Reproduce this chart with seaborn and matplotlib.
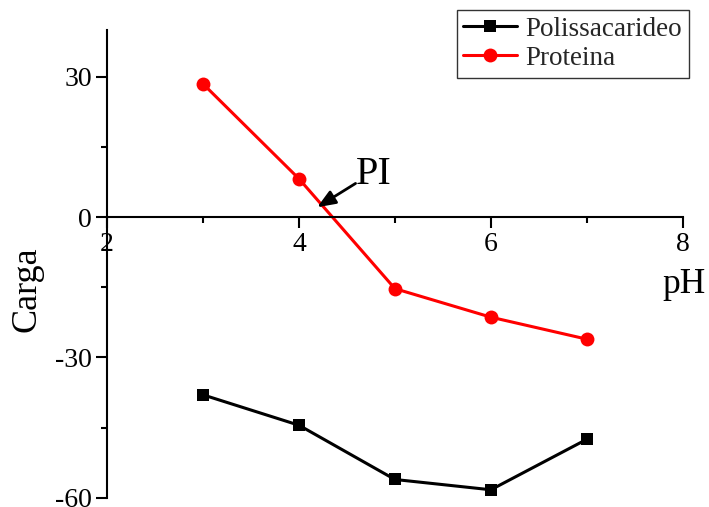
import matplotlib
matplotlib.use("Agg")
import matplotlib.pyplot as plt
import seaborn as sns
import pandas as pd
from matplotlib.ticker import MultipleLocator

# Surface charge versus pH
ph = [3, 4, 5, 6, 7]
polissacarideo = [-38.0, -44.5, -56.1, -58.3, -47.5]
proteina = [28.5, 8.2, -15.3, -21.4, -26.1]

x_ticks = [2, 4, 6, 8]
y_ticks = [-60, -30, 0, 30]

sns.set_theme(style="white")
plt.rcParams["font.family"] = ["Liberation Serif", "DejaVu Serif"]
plt.rcParams["axes.unicode_minus"] = False

fig = plt.figure(figsize=(7.09, 5.07), dpi=100)
ax = fig.add_axes([0.1509, 0.0183, 0.8122, 0.9225])

df = pd.DataFrame({
    "pH": ph * 2,
    "Carga": polissacarideo + proteina,
    "Serie": ["Polissacarideo"] * len(ph) + ["Proteina"] * len(ph),
})

sns.lineplot(data=df[df.Serie == "Polissacarideo"], x="pH", y="Carga",
             color="black", marker="s", markersize=9, markeredgewidth=0,
             linewidth=2.2, ax=ax, label="Polissacarideo")
sns.lineplot(data=df[df.Serie == "Proteina"], x="pH", y="Carga",
             color="#ff0000", marker="o", markersize=10, markeredgewidth=0,
             linewidth=2.2, ax=ax, label="Proteina")

ax.set_xlim(2, 8)
ax.set_ylim(-60, 40)
ax.set_xticks(x_ticks)
ax.set_yticks(y_ticks)
ax.xaxis.set_minor_locator(MultipleLocator(1))
ax.yaxis.set_minor_locator(MultipleLocator(15))

for side in ["top", "right"]:
    ax.spines[side].set_visible(False)
ax.spines["bottom"].set_position(("data", 0))
for side in ["left", "bottom"]:
    ax.spines[side].set_color("black")
    ax.spines[side].set_linewidth(1.5)

ax.tick_params(axis="both", which="major", direction="out", length=8,
               width=1.5, color="black", labelsize=20, labelcolor="black",
               pad=3, left=True, bottom=True)
ax.tick_params(axis="both", which="minor", direction="out", length=4.5,
               width=1.5, color="black", left=True, bottom=True)

ax.set_xlabel("")
ax.set_ylabel("")
fig.text(684 / 709, 1 - 293 / 507, "pH", fontsize=25.5, ha="center",
         va="baseline", color="black")
fig.text(27 / 709, 1 - 289 / 507, "Carga", fontsize=26, ha="center",
         va="center", rotation=90, color="black")

# Isoelectric point marker
ax.annotate("", xy=(4.19, 2.1), xytext=(4.59, 7.2),
            arrowprops=dict(arrowstyle="-|>,head_length=0.55,head_width=0.22",
                            color="black", lw=2, mutation_scale=20,
                            shrinkA=0, shrinkB=0))
ax.text(4.59, 7.1, "PI", fontsize=29, ha="left", va="baseline",
        color="black")

ax.get_legend().remove()
leg = fig.legend(loc="upper right", bbox_to_anchor=(689 / 709, 1 - 10 / 507),
                 fontsize=19.5, frameon=True, fancybox=False, edgecolor="black",
                 handlelength=2.0, borderpad=0.25, labelspacing=0.15,
                 handletextpad=0.3, borderaxespad=0)
leg.get_frame().set_linewidth(1.0)

fig.savefig("out.png", dpi=100)
